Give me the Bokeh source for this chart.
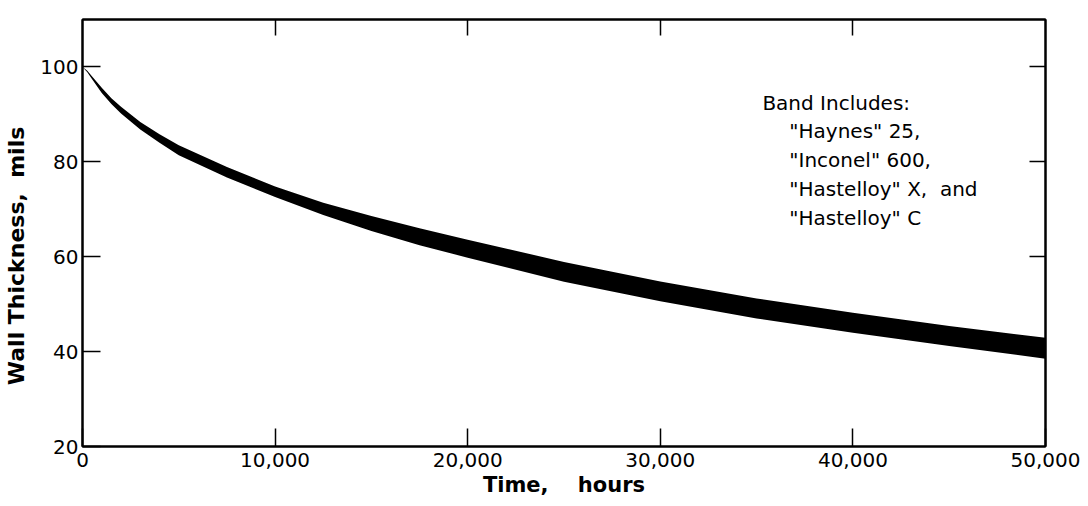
from bokeh.plotting import figure
from bokeh.models import LinearAxis, FixedTicker, NumeralTickFormatter, Range1d, Label, ColumnDataSource
from bokeh.embed import file_html
from bokeh.resources import INLINE

# Data
time_hours = [0, 250, 500, 1000, 1500, 2000, 3000, 4000, 5000, 7500, 10000, 12500, 15000,
              17500, 20000, 25000, 30000, 35000, 40000, 45000, 50000]
thickness_upper = [100, 99.2, 98.0, 95.6, 93.4, 91.6, 88.4, 85.8, 83.5, 78.9, 74.8, 71.4, 68.6,
                   66.0, 63.6, 58.9, 54.8, 51.2, 48.2, 45.4, 42.9]
thickness_lower = [100, 98.9, 97.4, 94.5, 92.2, 90.2, 86.8, 84.0, 81.4, 76.7, 72.6, 68.8, 65.4,
                   62.4, 59.8, 54.7, 50.6, 47.0, 44.0, 41.2, 38.5]

x_ticks = [0, 10000, 20000, 30000, 40000, 50000]
y_ticks = [20, 40, 60, 80, 100]

note_title = "Band Includes:"
note_lines = ['"Haynes" 25,', '"Inconel" 600,', '"Hastelloy" X,\u00a0\u00a0and', '"Hastelloy" C']

FONT = "DejaVu Sans"
NB = "\u00a0"

p = figure(width=1088, height=506, x_range=Range1d(0, 50000), y_range=Range1d(20, 110),
           output_backend="svg", toolbar_location=None,
           min_border_left=82, min_border_right=43, min_border_top=19, min_border_bottom=60,
           background_fill_color="white", border_fill_color="white")
p.grid.visible = False
p.outline_line_color = "black"
p.outline_line_width = 2

src = ColumnDataSource(dict(t=time_hours, up=thickness_upper, lo=thickness_lower))
p.varea(x="t", y1="lo", y2="up", source=src, fill_color="black")

# Bottom axis
xa = p.xaxis[0]
xa.ticker = FixedTicker(ticks=x_ticks)
xa.formatter = NumeralTickFormatter(format="0,0")
xa.axis_label = "Time," + NB * 4 + "hours"
# Left axis
ya = p.yaxis[0]
ya.ticker = FixedTicker(ticks=y_ticks)
ya.axis_label = "Wall" + NB + "Thickness," + NB * 2 + "mils" + NB * 6

for ax in (xa, ya):
    ax.axis_line_width = 2
    ax.axis_line_color = "black"
    ax.major_tick_in = 18
    ax.major_tick_out = 0
    ax.major_tick_line_width = 1.5
    ax.minor_tick_line_color = None
    ax.major_label_text_font = FONT
    ax.major_label_text_font_size = "20px"
    ax.major_label_text_color = "black"
    ax.axis_label_text_font = FONT
    ax.axis_label_text_font_style = "bold"
    ax.axis_label_text_color = "black"
xa.axis_label_text_font_size = "21px"
ya.axis_label_text_font_size = "22px"
xa.major_label_standoff = 6
xa.axis_label_standoff = 3
ya.major_label_standoff = 4
ya.axis_label_standoff = 8

# Mirror axes (ticks only, no labels)
top = LinearAxis(ticker=FixedTicker(ticks=x_ticks[1:-1]))
right = LinearAxis(ticker=FixedTicker(ticks=y_ticks[1:]))
for ax in (top, right):
    ax.axis_line_width = 2
    ax.axis_line_color = "black"
    ax.major_tick_in = 16
    ax.major_tick_out = 0
    ax.major_tick_line_width = 1.5
    ax.minor_tick_line_color = None
    ax.major_label_text_color = None
    ax.major_label_standoff = 0
p.add_layout(top, "above")
p.add_layout(right, "right")

# Annotation
p.add_layout(Label(x=35300, y=92.3, text=note_title, text_font=FONT, text_font_size="20px",
                   text_baseline="middle", text_color="black"))
ys = [86.4, 80.3, 74.2, 68.1]
for txt, yy in zip(note_lines, ys):
    p.add_layout(Label(x=36700, y=yy, text=txt, text_font=FONT, text_font_size="20px",
                       text_baseline="middle", text_color="black"))

open("out.html", "w").write(file_html(p, INLINE))
